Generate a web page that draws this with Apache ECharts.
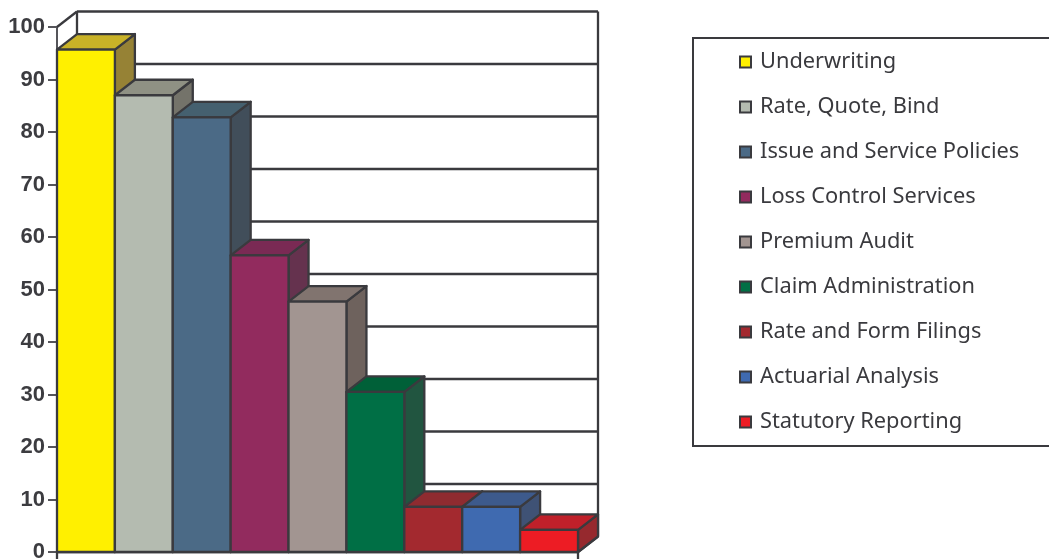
<!DOCTYPE html>
<html>
<head>
<meta charset="utf-8">
<style>html,body{margin:0;padding:0;background:#fff;overflow:hidden}#chart{width:1049px;height:559px}</style>
<script src="https://cdn.jsdelivr.net/npm/echarts@6/dist/echarts.min.js"></script>
</head>
<body>
<div id="chart"></div>
<script>
// Ratings of insurance operations, drawn as extruded columns on a box-shaped plot
const categories = ['Underwriting','Rate, Quote, Bind','Issue and Service Policies','Loss Control Services','Premium Audit','Claim Administration','Rate and Form Filings','Actuarial Analysis','Statutory Reporting'];
const values = [95.7, 87, 82.8, 56.5, 47.7, 30.5, 8.6, 8.6, 4.2];
const frontColors = ['#fff000','#b4bbb0','#4b6a86','#922b5e','#a29591','#006f45','#a3292f','#3f6ab0','#ed1c24'];
const topColors = ['#c9b227','#8f9184','#45606f','#7a2a54','#81746f','#006038','#8f2b30','#3d5a8c','#c0202a'];
const sideColors = ['#968235','#74736a','#414e5a','#65324e','#6e625d','#215540','#7f2a30','#3f5275','#96292e'];
const yTicks = [0,10,20,30,40,50,60,70,80,90,100];

const DX = 20, DY = -15.5;
const INK = '#3a3a3e';
const edge = { stroke: INK, lineWidth: 2.3, fill: null };

function line(x1, y1, x2, y2, style) {
  return { type: 'line', shape: { x1, y1, x2, y2 }, style: Object.assign({}, edge, style) };
}

// Back wall, its gridlines and the outline of the box
function renderWall(params, api) {
  const v = api.value(0);
  const [x0, y] = api.coord([0, v]);
  const band = api.size([1, 0])[0];
  const left = x0 - band / 2;
  const right = left + band * categories.length;
  const kids = [line(left + DX, y + DY, right + DX, y + DY)];
  if (v === 100) {
    const [, yBase] = api.coord([0, 0]);
    kids.push(
      line(left, y, left + DX, y + DY),
      line(left + DX, y + DY, left + DX, yBase + DY),
      line(right + DX, y + DY, right + DX, yBase + DY),
      line(right, yBase, right + DX, yBase + DY),
      line(left, yBase, left, yBase + 8),
      line(right, yBase, right, yBase + 8)
    );
  }
  return { type: 'group', children: kids };
}

// One extruded column: side face, top face, front face
function renderColumn(i) {
  return function (params, api) {
    const [cx, yTop] = api.coord([api.value(0), api.value(1)]);
    const [, yBase] = api.coord([api.value(0), 0]);
    const band = api.size([1, 0])[0];
    const l = cx - band / 2, r = cx + band / 2;
    const stroke = { stroke: INK, lineWidth: 2.3, lineJoin: 'round' };
    return {
      type: 'group',
      children: [
        { type: 'polygon', shape: { points: [[r, yTop], [r + DX, yTop + DY], [r + DX, yBase + DY], [r, yBase]] },
          style: Object.assign({ fill: sideColors[i] }, stroke) },
        { type: 'polygon', shape: { points: [[l, yTop], [l + DX, yTop + DY], [r + DX, yTop + DY], [r, yTop]] },
          style: Object.assign({ fill: topColors[i] }, stroke) },
        { type: 'rect', shape: { x: l, y: yTop, width: band, height: yBase - yTop },
          style: Object.assign({ fill: frontColors[i] }, stroke) }
      ]
    };
  };
}

const wallSeries = {
  type: 'custom', name: 'wall', silent: true, clip: false,
  encode: { x: 1, y: 0 },
  data: yTicks.map(t => [t, 0]),
  renderItem: renderWall
};

const columnSeries = categories.map((name, i) => ({
  type: 'custom', name, clip: false, silent: true,
  itemStyle: { color: frontColors[i], borderColor: INK, borderWidth: 2.3 },
  encode: { x: 0, y: 1 },
  data: [[i, values[i]]],
  renderItem: renderColumn(i)
}));

const chart = echarts.init(document.getElementById('chart'), null, { renderer: 'canvas' });
chart.setOption({
  animation: false,
  backgroundColor: '#fff',
  grid: { left: 57, top: 27, width: 521, height: 525, containLabel: false, outerBoundsMode: 'none' },
  xAxis: {
    type: 'category',
    data: categories.map((c, i) => i),
    boundaryGap: true,
    axisLabel: { show: false },
    axisTick: { show: false },
    axisLine: { show: true, lineStyle: { color: INK, width: 2.3 } },
    splitLine: { show: false }
  },
  yAxis: {
    type: 'value',
    min: 0, max: 100, interval: 10,
    axisLine: { show: true, lineStyle: { color: '#55555a', width: 2 } },
    axisTick: { show: true, length: 9, lineStyle: { color: '#55555a', width: 2 } },
    axisLabel: {
      margin: 12,
      color: '#3c3c40',
      fontFamily: 'Liberation Sans',
      fontWeight: 'bold',
      fontSize: 22
    },
    splitLine: { show: false }
  },
  legend: {
    data: categories,
    orient: 'vertical',
    left: 693,
    top: 38,
    icon: 'rect',
    itemWidth: 11,
    itemHeight: 11,
    itemGap: 19,
    padding: [11, 120, 11, 46],
    selectedMode: false,
    borderColor: INK,
    borderWidth: 2,
    backgroundColor: '#fff',
    textStyle: {
      color: '#3a3a3e',
      fontFamily: 'Noto Sans',
      fontSize: 21.8,
      padding: [0, 0, 0, 4],
      height: 26,
      lineHeight: 26
    }
  },
  series: [wallSeries].concat(columnSeries)
});
</script>
</body>
</html>
